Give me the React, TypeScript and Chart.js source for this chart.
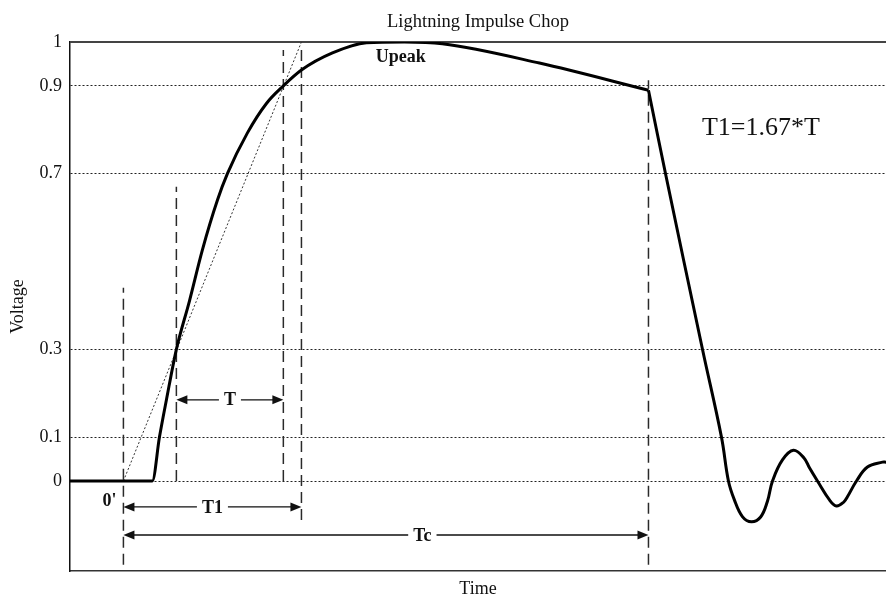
import { useEffect, useRef } from 'react';
import { Chart, registerables } from 'chart.js';

Chart.register(...registerables);

const SERIF = "'Liberation Serif', 'Times New Roman', serif";

// Voltage ticks, per unit of the peak value
const voltTicks = [0, 0.1, 0.3, 0.7, 0.9, 1];

// Impulse up to the chop instant: front, crest and tail (time in µs, voltage in p.u.)
const waveTime = [-0.36, 0.195, 0.243, 0.29, 0.357, 0.445, 0.532, 0.634, 0.701, 0.836, 0.964, 1.078, 1.2, 1.409, 1.638, 1.894, 2.15, 2.804, 3.539];
const waveVolt = [0, 0, 0.1, 0.185, 0.3, 0.41, 0.526, 0.64, 0.7, 0.793, 0.86, 0.9, 0.936, 0.975, 0.998, 1.0, 0.996, 0.952, 0.89];

// Collapse after the chop, with damped ringing
const chopTime = [3.539, 3.654, 3.903, 4.031, 4.078, 4.118, 4.172, 4.233, 4.295, 4.341, 4.375, 4.442, 4.516, 4.586, 4.624, 4.678, 4.759, 4.806, 4.855, 4.88, 4.941, 5.015, 5.116, 5.14];
const chopVolt = [0.89, 0.7, 0.3, 0.1, 0, -0.043, -0.081, -0.093, -0.082, -0.046, 0, 0.048, 0.07, 0.053, 0.03, 0, -0.043, -0.057, -0.048, -0.036, 0, 0.032, 0.043, 0.043];

// Virtual front line through the 30 % and 90 % points, from 0' up to the peak level
const frontLineTime = [0, 1.2];
const frontLineVolt = [0, 1];

// Dashed time markers: 0', 30 %, 90 %, end of T1, chop instant
const markerTime = [0, 0.357, 1.078, 1.2, 3.539];
const markerTop = [0.44, 0.67, 0.982, 0.982, 0.913];
const markerBottom = [-0.191, 0, 0, -0.089, -0.191];

// Interval arrows
const spanName = ['T', 'T1', 'Tc'];
const spanFrom = [0.357, 0, 0];
const spanTo = [1.078, 1.2, 3.539];
const spanLevel = [0.185, -0.059, -0.123];
const spanTextAt = [0.718, 0.6, 2.015];

// Free text notes
const noteText = ["0'", 'Upeak', 'T1=1.67*T'];
const noteTime = [-0.094, 1.87, 4.297];
const noteVolt = [-0.046, 0.964, 0.804];

const toPoints = (xs: number[], ys: number[]) => xs.map((x, i) => ({ x, y: ys[i] }));

const overlay = {
  id: 'impulseOverlay',
  beforeDatasetsDraw(chart: any) {
    const { ctx, chartArea } = chart;
    ctx.save();
    ctx.strokeStyle = '#444';
    ctx.lineWidth = 2;
    ctx.beginPath();
    ctx.moveTo(chartArea.left, chartArea.top);
    ctx.lineTo(chartArea.right, chartArea.top);
    ctx.stroke();
    ctx.restore();
  },
  afterDatasetsDraw(chart: any) {
    const { ctx, scales } = chart;
    const xs = scales.x;
    const ys = scales.y;
    ctx.save();
    ctx.fillStyle = '#111';
    ctx.strokeStyle = '#111';
    ctx.lineWidth = 1.3;
    ctx.textAlign = 'center';
    ctx.textBaseline = 'middle';
    ctx.font = `bold 18px ${SERIF}`;

    const head = 11;
    const half = 4.5;
    spanName.forEach((name, i) => {
      const a = xs.getPixelForValue(spanFrom[i]);
      const b = xs.getPixelForValue(spanTo[i]);
      const yy = ys.getPixelForValue(spanLevel[i]);
      const cx = xs.getPixelForValue(spanTextAt[i]);
      const w = ctx.measureText(name).width;
      ctx.beginPath();
      ctx.moveTo(a + head - 1, yy);
      ctx.lineTo(cx - w / 2 - 5, yy);
      ctx.moveTo(cx + w / 2 + 5, yy);
      ctx.lineTo(b - head + 1, yy);
      ctx.stroke();
      ctx.beginPath();
      ctx.moveTo(a, yy);
      ctx.lineTo(a + head, yy - half);
      ctx.lineTo(a + head, yy + half);
      ctx.closePath();
      ctx.fill();
      ctx.beginPath();
      ctx.moveTo(b, yy);
      ctx.lineTo(b - head, yy - half);
      ctx.lineTo(b - head, yy + half);
      ctx.closePath();
      ctx.fill();
      ctx.fillText(name, cx, yy + 1);
    });

    noteText.forEach((t, i) => {
      ctx.font = i === 2 ? `26px ${SERIF}` : `bold 18px ${SERIF}`;
      ctx.fillText(t, xs.getPixelForValue(noteTime[i]), ys.getPixelForValue(noteVolt[i]));
    });
    ctx.restore();
  },
};

export default function App() {
  const ref = useRef<HTMLCanvasElement | null>(null);

  useEffect(() => {
    if (!ref.current) return;
    const markerSets = markerTime.map((t, i) => ({
      data: [
        { x: t, y: markerBottom[i] },
        { x: t, y: markerTop[i] },
      ],
      borderColor: '#2a2a2a',
      borderWidth: 1.5,
      borderDash: [11, 6],
      pointRadius: 0,
      order: 3,
    }));

    const chart = new Chart(ref.current, {
      type: 'line',
      data: {
        datasets: [
          {
            data: toPoints(waveTime, waveVolt),
            borderColor: '#000',
            borderWidth: 3,
            pointRadius: 0,
            cubicInterpolationMode: 'monotone',
            order: 0,
          },
          {
            data: toPoints(chopTime, chopVolt),
            borderColor: '#000',
            borderWidth: 3,
            pointRadius: 0,
            tension: 0.4,
            order: 0,
          },
          {
            data: toPoints(frontLineTime, frontLineVolt),
            borderColor: '#333',
            borderWidth: 1,
            borderDash: [2, 2],
            pointRadius: 0,
            order: 2,
          },
          ...markerSets,
        ] as any,
      },
      options: {
        responsive: false,
        animation: false,
        layout: { padding: 0 },
        plugins: {
          legend: { display: false },
          tooltip: { enabled: false },
          title: {
            display: true,
            fullSize: false,
            text: 'Lightning Impulse Chop',
            color: '#111',
            font: { family: SERIF, size: 18.5, weight: 'normal', lineHeight: 1.2 },
            padding: { top: 11, bottom: 8.8 },
          },
        },
        scales: {
          x: {
            type: 'linear',
            min: -0.36,
            max: 5.14,
            ticks: { display: false },
            grid: { display: false, drawTicks: false },
            border: { display: true, color: '#333', width: 1.5 },
            title: {
              display: true,
              text: 'Time',
              color: '#111',
              font: { family: SERIF, size: 18, lineHeight: 1 },
              padding: 0,
            },
            afterFit: (s: any) => {
              s.height = 27;
            },
          },
          y: {
            type: 'linear',
            min: -0.205,
            max: 1,
            afterBuildTicks: (s: any) => {
              s.ticks = voltTicks.map((v) => ({ value: v }));
            },
            ticks: {
              color: '#111',
              padding: 8,
              font: { family: SERIF, size: 18 },
              callback: (v: any) => String(v),
            },
            grid: { color: '#222', lineWidth: 1, drawTicks: false },
            border: { display: true, color: '#111', width: 1.5, dash: [2, 2] },
            title: {
              display: true,
              text: 'Voltage',
              color: '#111',
              font: { family: SERIF, size: 18, lineHeight: 1.2 },
              padding: { top: 7, bottom: 0 },
            },
            afterFit: (s: any) => {
              s.width = 70;
            },
          },
        },
      },
      plugins: [overlay],
    });
    return () => chart.destroy();
  }, []);

  return (
    <div style={{ position: 'fixed', left: 0, top: 0, width: 886, height: 598, background: '#fff' }}>
      <canvas ref={ref} width={886} height={598} />
    </div>
  );
}
